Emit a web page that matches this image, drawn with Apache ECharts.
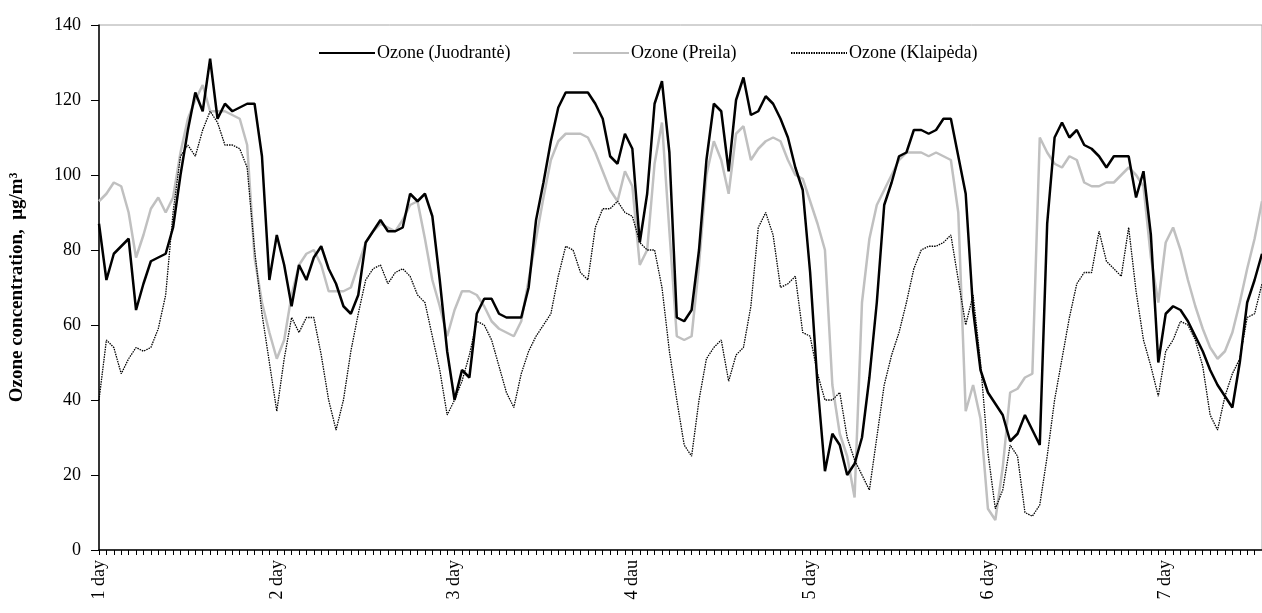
<!DOCTYPE html>
<html>
<head>
<meta charset="utf-8">
<script src="https://cdn.jsdelivr.net/npm/echarts@6/dist/echarts.min.js"></script>
<style>
html,body{margin:0;padding:0;background:#fff;}
#c{width:1262px;height:613px;}
</style>
</head>
<body>
<div id="c"></div>
<script>
var dayLabels = ['1 day','2 day','3 day','4 dau','5 day','6 day','7 day'];
var hoursPerDay = 24;
var hourCount = 158;

var juodrante = [87,72,79,81,83,64,71,77,78,79,86,100,112,122,117,131,115,119,117,118,
119,119,105,72,84,76,65,76,72,78,81,75,71,65,63,68,82,85,88,85,
85,86,95,93,95,89,72,53,40,48,46,63,67,67,63,62,62,62,70,88,
98,109,118,122,122,122,122,119,115,105,103,111,107,82,95,119,125,106,62,61,
64,80,104,119,117,101,120,126,116,117,121,119,115,110,102,96,74,44,21,31,
28,20,23,30,46,66,92,98,105,106,112,112,111,112,115,115,105,95,64,48,
42,39,36,29,31,36,32,28,87,110,114,110,112,108,107,105,102,105,105,105,
94,101,84,50,63,65,64,61,57,53,48,44,41,38,50,66,72,79];

var preila = [93,95,98,97,90,78,84,91,94,90,94,106,115,120,124,117,117,117,116,115,
108,78,66,58,51,56,68,76,79,80,76,69,69,69,70,76,82,85,87,86,
85,88,92,93,83,72,65,57,64,69,69,68,65,61,59,58,57,61,72,83,
94,104,109,111,111,111,110,106,101,96,93,101,97,76,80,103,114,85,57,56,
57,76,100,109,104,95,111,113,104,107,109,110,109,104,100,99,93,87,80,44,
31,25,14,66,83,92,96,100,104,106,106,106,105,106,105,104,90,37,44,35,
11,8,22,42,43,46,47,110,106,103,102,105,104,98,97,97,98,98,100,102,
100,97,78,66,82,86,80,72,65,59,54,51,53,58,66,75,83,93];

var klaipeda = [40,56,54,47,51,54,53,54,59,68,90,105,108,105,112,117,114,108,108,107,
102,80,63,50,37,51,62,58,62,62,52,40,32,40,53,63,72,75,76,71,
74,75,73,68,66,57,48,36,40,45,52,61,60,56,49,42,38,47,53,57,
60,63,73,81,80,74,72,86,91,91,93,90,89,82,80,80,70,53,40,28,
25,40,51,54,56,45,52,54,65,86,90,84,70,71,73,58,57,47,40,40,
42,30,24,20,16,30,44,52,58,66,75,80,81,81,82,84,72,60,68,50,
26,11,16,28,25,10,9,12,25,40,51,62,71,74,74,85,77,75,73,86,
69,56,49,41,53,56,61,60,56,49,36,32,41,47,51,62,63,71];

var seriesNames = ['Ozone (Juodrantė)','Ozone (Preila)','Ozone (Klaipėda)'];
var yTicks = {min:0, max:140, step:20};

var hours = [];
for (var h = 0; h < hourCount; h++) hours.push(String(h));

var serif = '"Liberation Serif", "Times New Roman", serif';
var chart = echarts.init(document.getElementById('c'), null, {renderer:'canvas'});

function legendFor(name, left) {
  return {
    data:[name], left:left, top:44, itemWidth:56, itemHeight:12, itemGap:0,
    itemStyle:{opacity:0, borderWidth:0},
    textStyle:{fontFamily:serif, fontSize:18, color:'#000', padding:[0,0,0,-3]},
    padding:0
  };
}

chart.setOption({
  animation:false,
  backgroundColor:'#fff',
  legend:[legendFor(seriesNames[0],318), legendFor(seriesNames[1],572), legendFor(seriesNames[2],790)],
  grid:{left:99, right:-1, top:25, bottom:63, show:true, borderColor:'#a6a6a6', borderWidth:1, backgroundColor:'transparent'},
  xAxis:{
    type:'category', data:hours, boundaryGap:false,
    axisLine:{lineStyle:{color:'#000', width:1.5}},
    axisTick:{interval:0, length:5, lineStyle:{color:'#000', width:1}},
    axisLabel:{
      interval:function(i){return i % hoursPerDay === 0;},
      formatter:function(v){var h=+v; return h % hoursPerDay === 0 ? (dayLabels[h/hoursPerDay]||'') : '';},
      rotate:90, margin:10, fontFamily:serif, fontSize:18, color:'#000', padding:[0,0,0,0]
    },
    splitLine:{show:false}
  },
  yAxis:{
    type:'value', min:yTicks.min, max:yTicks.max, interval:yTicks.step,
    name:'Ozone concentration,  μg/m³', nameLocation:'middle', nameGap:72,
    nameTextStyle:{fontFamily:serif, fontSize:19, fontWeight:'bold', color:'#000'},
    axisLine:{show:true, lineStyle:{color:'#000', width:1.5}},
    axisTick:{show:true, length:8, lineStyle:{color:'#000'}},
    axisLabel:{margin:18, fontFamily:serif, fontSize:18, color:'#000'},
    splitLine:{show:false}
  },
  series:[
    {name:seriesNames[0], type:'line', data:juodrante, symbol:'none', z:4,
     lineStyle:{color:'#000', width:2.5}, itemStyle:{color:'#000'}},
    {name:seriesNames[1], type:'line', data:preila, symbol:'none', z:3,
     lineStyle:{color:'#c0c0c0', width:2.5}, itemStyle:{color:'#c0c0c0'}},
    {name:seriesNames[2], type:'line', data:klaipeda, symbol:'none', z:5,
     lineStyle:{color:'#000', width:1.3, type:[1.5,1]}, itemStyle:{color:'#000'}}
  ]
});
</script>
</body>
</html>
